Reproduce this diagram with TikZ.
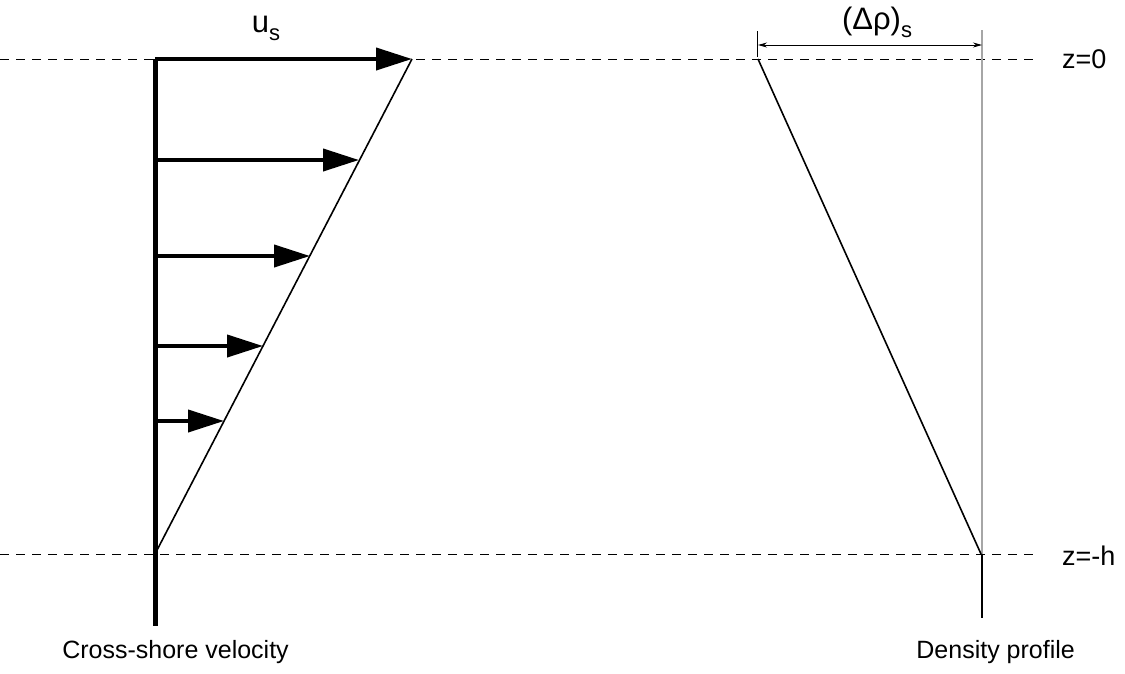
\documentclass[tikz,border=0pt]{standalone}
\usepackage{fontspec}
\setmainfont{Liberation Sans}
\usetikzlibrary{arrows.meta}
\begin{document}
\begin{tikzpicture}[x=1pt,y=-1pt,
  guide/.style={line width=1pt, dash pattern=on 9pt off 7pt},
  axisline/.style={line width=5pt},
  velarrow/.style={line width=4pt, -{Triangle[length=36pt,width=22pt]}},
  profile/.style={line width=1.6pt},
  lbl/.style={font=\fontsize{25}{30}\selectfont, inner sep=0pt},
  zlbl/.style={font=\fontsize{27}{32}\selectfont, inner sep=0pt},
  biglbl/.style={font=\fontsize{31}{36}\selectfont, inner sep=0pt}]
\useasboundingbox (0,0) rectangle (1125,673);
% coordinates
\coordinate (gl0) at (0,59);
\coordinate (gr0) at (1040,59);
\coordinate (glh) at (0,554);
\coordinate (grh) at (1040,554);
\coordinate (atop) at (155,59);
\coordinate (abot) at (155,626);
\coordinate (vbot) at (155,554);
\coordinate (vtop) at (412,59);
\coordinate (a1s) at (155,160);
\coordinate (a1e) at (359,160);
\coordinate (a2s) at (155,256);
\coordinate (a2e) at (310,256);
\coordinate (a3s) at (155,346);
\coordinate (a3e) at (263,346);
\coordinate (a4s) at (155,421);
\coordinate (a4e) at (224,421);
\coordinate (dtop) at (758,59);
\coordinate (dbot) at (981,554);
\coordinate (gtop) at (982,30);
\coordinate (gbot) at (982,554);
\coordinate (bend) at (982,618);
\coordinate (dimL) at (758,45);
\coordinate (dimR) at (982,45);
\coordinate (tickT) at (757,31);
\coordinate (tickB) at (757,57);
% guides
\draw[guide] (gl0) -- (gr0);
\draw[guide] (glh) -- (grh);
% velocity profile
\draw[axisline] (atop) -- (abot);
\draw[velarrow] (atop) -- (vtop);
\draw[velarrow] (a1s) -- (a1e);
\draw[velarrow] (a2s) -- (a2e);
\draw[velarrow] (a3s) -- (a3e);
\draw[velarrow] (a4s) -- (a4e);
\draw[profile] (vbot) -- (vtop);
% density profile
\draw[gray!70, line width=1.4pt] (gtop) -- (gbot);
\draw[line width=2pt] (gbot) -- (bend);
\draw[profile] (dtop) -- (dbot);
\draw[line width=0.8pt] (tickT) -- (tickB);
\draw[line width=0.8pt, {Stealth[length=9pt,width=5pt]}-{Stealth[length=9pt,width=5pt]}] (dimL) -- (dimR);
% labels
\node[biglbl] (us) at (266,28) {u\raisebox{-8pt}{\fontsize{22}{22}\selectfont s}};
\node[biglbl] (drho) at (877,22) {(Δρ)\raisebox{-8pt}{\fontsize{22}{22}\selectfont s}};
\node[zlbl, anchor=west] (z0) at (1062,59) {z=0};
\node[zlbl, anchor=west] (zh) at (1062,556) {z=-h};
\node[lbl, anchor=east] (cs) at (289,652) {Cross-shore velocity};
\node[lbl, anchor=east] (dp) at (1075,652) {Density profile};
\end{tikzpicture}
\end{document}
